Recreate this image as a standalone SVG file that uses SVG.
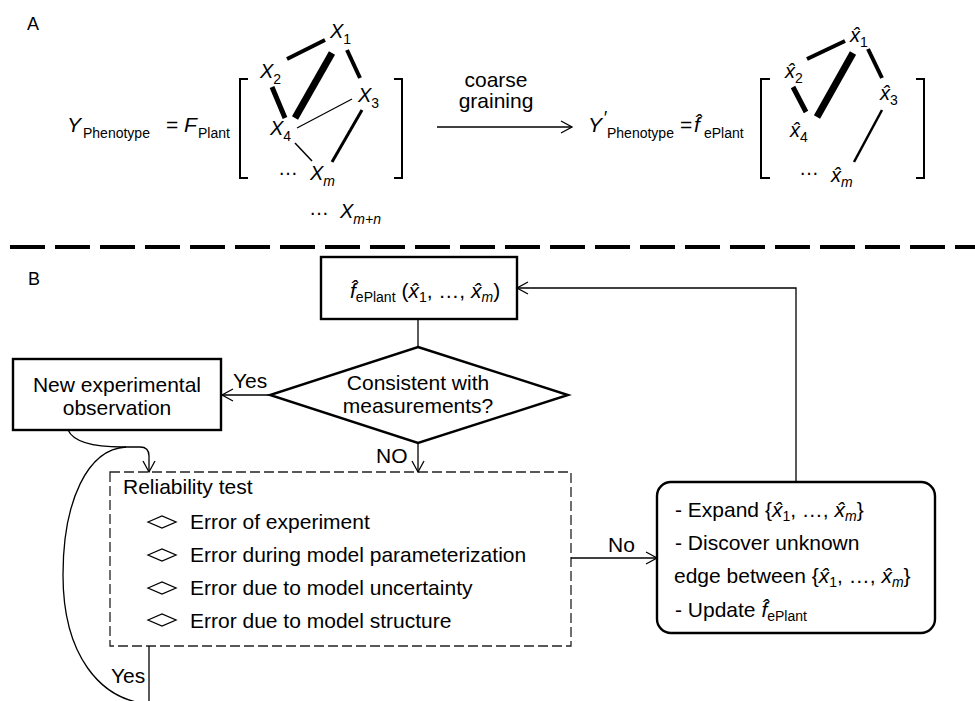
<svg xmlns="http://www.w3.org/2000/svg" width="975" height="701" viewBox="0 0 975 701">
<style>
text{font-family:"Liberation Sans",Arial,Helvetica,sans-serif;fill:#000}
.t21{font-size:21px}
.t20{font-size:20px}
.sub{font-size:14px}
.it{font-style:italic}
.lbl{font-size:18px}
.box{fill:#fff;stroke:#000;stroke-width:2.4}
.dash{fill:none;stroke:#222;stroke-width:1.3;stroke-dasharray:10 4}
.con{fill:none;stroke:#000;stroke-width:1.3}
.br{fill:none;stroke:#000;stroke-width:2}
.e{stroke:#000;stroke-linecap:butt}
.bul{fill:none;stroke:#000;stroke-width:1.3}
</style>
<defs>
<marker id="arr" markerWidth="14" markerHeight="14" refX="11" refY="6" orient="auto" markerUnits="userSpaceOnUse" style="overflow:visible">
<path d="M0,0 L11,6 L0,12" fill="none" stroke="#000" stroke-width="1.3"/>
</marker>
</defs>

<!-- Panel labels -->
<text class="lbl" x="27" y="30">A</text>
<text class="lbl" x="28" y="285">B</text>

<!-- Divider -->
<line x1="10" y1="247" x2="975" y2="247" stroke="#000" stroke-width="4" stroke-dasharray="35 10"/>

<!-- Panel A: left equation -->
<g id="eqLeft">
<text class="t21" x="67" y="132"><tspan class="it">Y</tspan><tspan class="sub" x="83" dy="6">Phenotype</tspan><tspan x="166" dy="-6">=</tspan><tspan class="it" x="184">F</tspan><tspan class="sub" x="198" dy="6">Plant</tspan></text>
<path class="br" d="M248,79 H240 V178 H248 M394,79 H402 V178 H394"/>
</g>

<g id="graphLeftEdges">
<line class="e" x1="287" y1="59" x2="325" y2="40" stroke-width="4"/>
<line class="e" x1="332" y1="53" x2="295" y2="118" stroke-width="7"/>
<line class="e" x1="347" y1="50" x2="360" y2="78" stroke-width="4"/>
<line class="e" x1="272" y1="87" x2="285" y2="118" stroke-width="5"/>
<line class="e" x1="297" y1="128" x2="352" y2="99" stroke-width="1.2"/>
<line class="e" x1="295" y1="143" x2="312" y2="161" stroke-width="1.5"/>
<line class="e" x1="362" y1="110" x2="332" y2="162" stroke-width="3"/>
</g>
<g id="X1"><text class="t20" x="330" y="38"><tspan class="it">X</tspan><tspan class="sub" dy="6">1</tspan></text></g>
<g id="X2"><text class="t20" x="260" y="78"><tspan class="it">X</tspan><tspan class="sub" dy="6">2</tspan></text></g>
<g id="X3"><text class="t20" x="358" y="102"><tspan class="it">X</tspan><tspan class="sub" dy="6">3</tspan></text></g>
<g id="X4"><text class="t20" x="270" y="135"><tspan class="it">X</tspan><tspan class="sub" dy="6">4</tspan></text></g>
<g id="Xm"><text class="t20" x="278" y="175">…</text><text class="t20" x="310" y="180"><tspan class="it">X</tspan><tspan class="sub it" dy="6">m</tspan></text></g>
<g id="Xmn"><text class="t20" x="309" y="215">…</text><text class="t20" x="340" y="218"><tspan class="it">X</tspan><tspan class="sub it" dy="6">m+n</tspan></text></g>

<!-- coarse graining arrow -->
<g id="coarse">
<text class="t21" x="496" y="87" text-anchor="middle">coarse</text>
<text class="t21" x="496" y="108" text-anchor="middle">graining</text>
</g>
<g id="connectorsA">
<line class="con" x1="437" y1="127" x2="572" y2="127" marker-end="url(#arr)"/>
</g>

<!-- Panel A: right equation -->
<g id="eqRight">
<text class="t21" x="588" y="132"><tspan class="it">Y</tspan><tspan class="it" font-size="18" x="603" dy="-8">′</tspan><tspan class="sub" x="607" dy="14">Phenotype</tspan><tspan x="680" dy="-6">=</tspan><tspan class="it" x="694">f̂</tspan><tspan class="sub" x="704" dy="6">ePlant</tspan></text>
<path class="br" d="M770,79 H761 V178 H770 M916,79 H924 V178 H916"/>
</g>

<g id="graphRightEdges">
<line class="e" x1="807" y1="59" x2="845" y2="41" stroke-width="4"/>
<line class="e" x1="853" y1="53" x2="817" y2="117" stroke-width="7"/>
<line class="e" x1="868" y1="49" x2="882" y2="78" stroke-width="4"/>
<line class="e" x1="793" y1="87" x2="806" y2="112" stroke-width="5"/>
<line class="e" x1="882" y1="110" x2="854" y2="162" stroke-width="2.5"/>
</g>
<g id="xh1"><text class="t20" x="850" y="42"><tspan class="it">x̂</tspan><tspan class="sub" dy="5">1</tspan></text></g>
<g id="xh2"><text class="t20" x="785" y="78"><tspan class="it">x̂</tspan><tspan class="sub" dy="5">2</tspan></text></g>
<g id="xh3"><text class="t20" x="880" y="100"><tspan class="it">x̂</tspan><tspan class="sub" dy="5">3</tspan></text></g>
<g id="xh4"><text class="t20" x="790" y="137"><tspan class="it">x̂</tspan><tspan class="sub" dy="5">4</tspan></text></g>
<g id="xhm"><text class="t20" x="799" y="175">…</text><text class="t20" x="831" y="182"><tspan class="it">x̂</tspan><tspan class="sub it" dy="5">m</tspan></text></g>

<!-- Panel B nodes -->
<g id="modelBox">
<rect class="box" x="321" y="257" width="196" height="62"/>
<text class="t21" x="350" y="298"><tspan class="it">f̂</tspan><tspan class="sub" dy="4">ePlant</tspan><tspan dy="-4"> (</tspan><tspan class="it">x̂</tspan><tspan class="sub" dy="4">1</tspan><tspan dy="-4">, …, </tspan><tspan class="it">x̂</tspan><tspan class="sub it" dy="4">m</tspan><tspan dy="-4">)</tspan></text>
</g>

<g id="decision">
<polygon class="box" points="418,347 568,395 418,443 270,395"/>
<text class="t21" x="418" y="390" text-anchor="middle">Consistent with</text>
<text class="t21" x="418" y="413" text-anchor="middle">measurements?</text>
</g>

<g id="observation">
<rect class="box" x="13" y="359" width="208" height="71"/>
<text class="t21" x="117" y="392" text-anchor="middle">New experimental</text>
<text class="t21" x="117" y="415" text-anchor="middle">observation</text>
</g>

<g id="reliability">
<rect class="dash" x="110" y="472" width="461" height="174"/>
<text class="t21" x="123" y="494">Reliability test</text>
<polygon class="bul" points="148,522 162,516 176,522 162,528"/>
<text class="t21" x="190" y="529">Error of experiment</text>
<polygon class="bul" points="148,555 162,549 176,555 162,561"/>
<text class="t21" x="190" y="562">Error during model parameterization</text>
<polygon class="bul" points="148,588 162,582 176,588 162,594"/>
<text class="t21" x="190" y="595">Error due to model uncertainty</text>
<polygon class="bul" points="148,620 162,614 176,620 162,626"/>
<text class="t21" x="190" y="628">Error due to model structure</text>
</g>

<g id="update">
<rect class="box" x="657" y="482" width="278" height="151" rx="14" ry="14"/>
<text class="t21" x="675" y="517">- Expand {<tspan class="it">x̂</tspan><tspan class="sub" dy="4">1</tspan><tspan dy="-4">, …, </tspan><tspan class="it">x̂</tspan><tspan class="sub it" dy="4">m</tspan><tspan dy="-4">}</tspan></text>
<text class="t21" x="675" y="550">- Discover unknown</text>
<text class="t21" x="674" y="583">edge between {<tspan class="it">x̂</tspan><tspan class="sub" dy="4">1</tspan><tspan dy="-4">, …, </tspan><tspan class="it">x̂</tspan><tspan class="sub it" dy="4">m</tspan><tspan dy="-4">}</tspan></text>
<text class="t21" x="675" y="617">- Update <tspan class="it">f̂</tspan><tspan class="sub" dy="4">ePlant</tspan></text>
</g>

<!-- Panel B connectors -->
<g id="connectorsB">
<line class="con" x1="418" y1="319" x2="418" y2="347"/>
<line class="con" x1="270" y1="395" x2="222" y2="395" marker-end="url(#arr)"/>
<line class="con" x1="418" y1="443" x2="418" y2="472" marker-end="url(#arr)"/>
<path class="con" d="M68,430 C74,443 95,447 122,447 L140,447 Q149,447 149,456 L149,472" marker-end="url(#arr)"/>
<path class="con" d="M149,646 L149,701"/>
<path class="con" d="M149,704 C100,700 63,655 63,575 C63,500 88,449 126,447"/>
<line class="con" x1="571" y1="558" x2="657" y2="558" marker-end="url(#arr)"/>
<path class="con" d="M796,482 L796,288 L517,288" marker-end="url(#arr)"/>
</g>
<g id="labels">
<text class="t21" x="233" y="388">Yes</text>
<text class="t21" x="376" y="463">NO</text>
<text class="t21" x="608" y="552">No</text>
<text class="t21" x="111" y="683">Yes</text>
</g>
</svg>
